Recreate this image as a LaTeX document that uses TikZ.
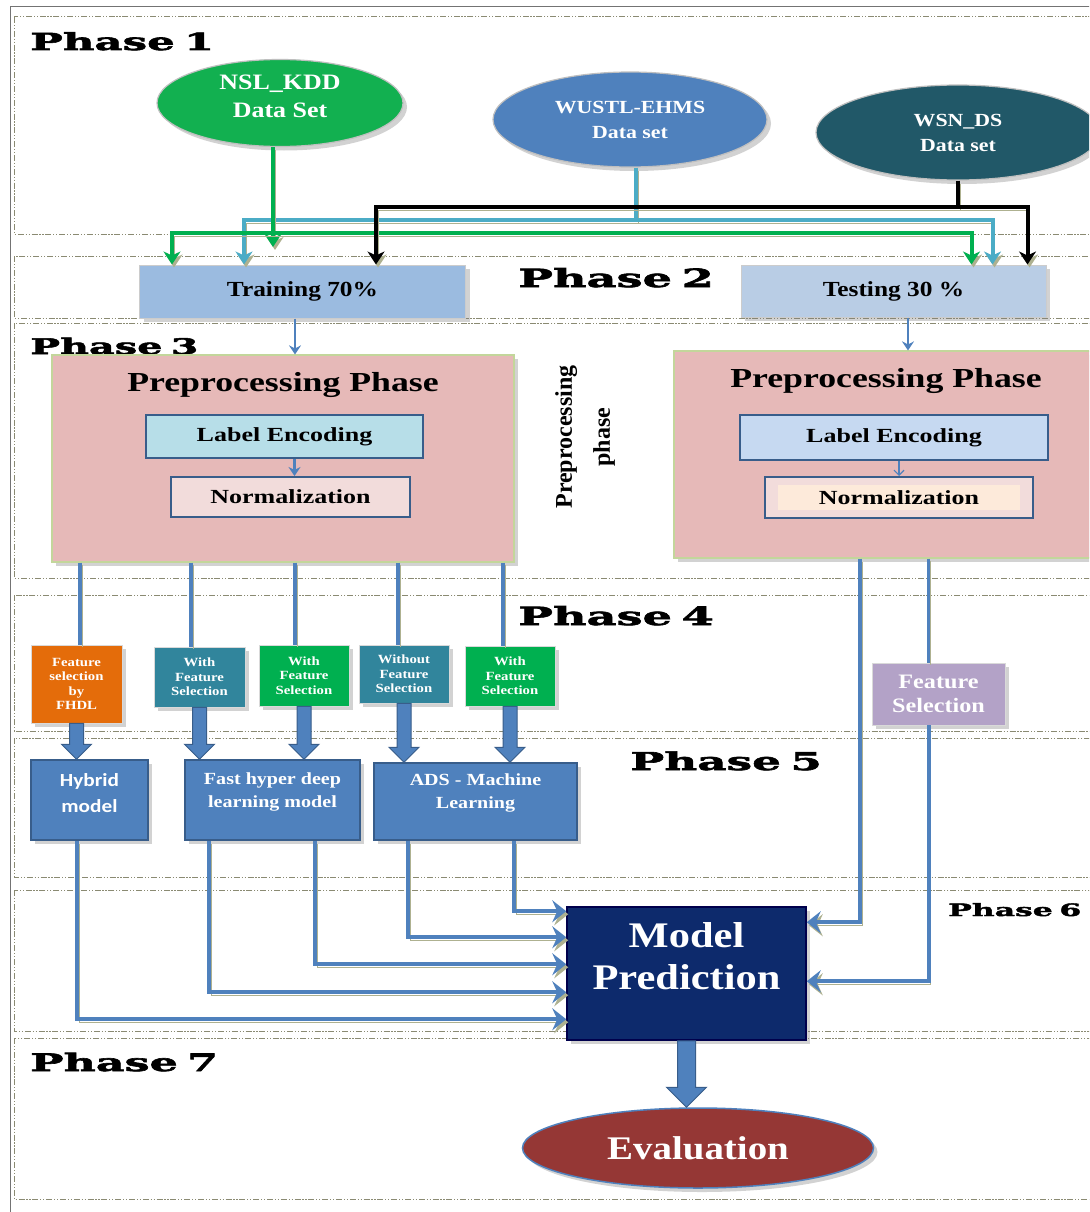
\documentclass[tikz,border=0pt]{standalone}
\usepackage{fontspec}
\setmainfont{Liberation Serif}[FakeStretch=1.18]
\newfontfamily\camfont{Liberation Serif}[FakeStretch=1.3]
\newfontfamily\rawfont{Liberation Serif}
\newfontfamily\calfont{Carlito}[FakeStretch=1.15]
\newfontfamily\phfont{DejaVu Serif}[FakeStretch=1.85,FakeBold=2.5,WordSpace=0.6]
\usetikzlibrary{shapes.geometric,arrows.meta,shadows,calc}
\definecolor{bandc}{HTML}{8A8A72}
\definecolor{nslc}{HTML}{12B050}
\definecolor{wustlc}{HTML}{4F81BD}
\definecolor{wsnc}{HTML}{215868}
\definecolor{glinec}{HTML}{00B050}
\definecolor{lblinec}{HTML}{4BACC6}
\definecolor{trainc}{HTML}{9BBBE0}
\definecolor{testc}{HTML}{B9CDE5}
\definecolor{pinkc}{HTML}{E6B9B8}
\definecolor{pinkbd}{HTML}{C3D69B}
\definecolor{leLc}{HTML}{B7DEE8}
\definecolor{leRc}{HTML}{C6D9F1}
\definecolor{normc}{HTML}{F2DCDB}
\definecolor{normin}{HTML}{FDEADA}
\definecolor{boxbd}{HTML}{385D8A}
\definecolor{orangec}{HTML}{E46C0A}
\definecolor{tealc}{HTML}{31859C}
\definecolor{greenc}{HTML}{00B050}
\definecolor{purplec}{HTML}{B3A2C7}
\definecolor{bluec}{HTML}{4F81BD}
\definecolor{navyc}{HTML}{0D2A6C}
\definecolor{evalc}{HTML}{953735}
\definecolor{shadc}{HTML}{AEB190}
\newcommand\fsz[2]{\fontsize{#1}{#2}\selectfont}
\newcommand\phaselab[4]{%
  \node[phl,font=\phfont\bfseries\fsz{#4}{#4}] (ph#3) at (#1,#2) {Phase #3};}
\newcommand\fatarrow[5]{%
  \draw[fat] let \p1=(#1), \p2=(#2) in
    (\x1-#3,\y1) -- (\x1-#3,\y2+#5) -- (\x1-#4,\y2+#5) -- (\x1,\y2) --
    (\x1+#4,\y2+#5) -- (\x1+#3,\y2+#5) -- (\x1+#3,\y1) -- cycle;}
\begin{document}
\begin{tikzpicture}[x=1pt,y=-1pt,
  every shadow/.style={opacity=0.35, shadow xshift=4pt, shadow yshift=-4pt},
  band/.style={draw=bandc, line width=1pt, dash pattern=on 6pt off 1.8pt on 1.2pt off 1.8pt on 1.2pt off 1.8pt},
  outer/.style={draw=black!55, line width=1pt},
  phl/.style={anchor=base west, inner sep=0pt, text=black},
  dsell/.style={ellipse, draw=white!75!black, line width=1.2pt, text=white, align=center, inner sep=0pt, drop shadow},
  splitbox/.style={rectangle, draw=white!80!black, line width=1pt, font=\bfseries\fsz{21.5}{26}, inner sep=0pt, drop shadow},
  pinkbox/.style={rectangle, fill=pinkc, draw=pinkbd, line width=1.2pt, inner sep=0pt, drop shadow},
  innerbox/.style={rectangle, draw=boxbd, line width=2pt, inner sep=0pt, font=\camfont\bfseries\fsz{20}{24}},
  ptitle/.style={font=\camfont\bfseries\fsz{27.5}{30}, inner sep=0pt},
  p4/.style={rectangle, minimum width=91pt, text=white, font=\bfseries\fsz{12.5}{14.5}, align=center, draw=white!70!gray, line width=0.8pt, inner sep=1pt, drop shadow},
  p5/.style={rectangle, fill=bluec, draw=boxbd, line width=1.5pt, inner sep=0pt, drop shadow},
  p5t/.style={text=white, align=center, inner sep=0pt},
  fat/.style={fill=bluec, draw=boxbd, line width=1pt},
  cline/.style={draw=bluec, line width=3.5pt, preaction={draw=shadc, transform canvas={xshift=2pt,yshift=-2pt}}},
  thinarr/.style={draw=bluec, line width=2.5pt, -{Stealth[length=9pt,width=12pt,inset=3pt]}},
  thinarrR/.style={draw=bluec, line width=1.2pt, -{Straight Barb[length=5pt,width=10pt]}},
  tipS/.style={-{Stealth[length=13pt,width=17pt,inset=4pt]}},
  gl/.style={draw=glinec, line width=4pt, preaction={draw=shadc, transform canvas={xshift=2pt,yshift=-3pt}}},
  bl/.style={draw=lblinec, line width=4pt, preaction={draw=shadc, transform canvas={xshift=2pt,yshift=-3pt}}},
  kl/.style={draw=black, line width=4pt, preaction={draw=shadc, transform canvas={xshift=2pt,yshift=-3pt}}},
  conn/.style={draw=bluec, line width=4pt, -{Stealth[length=14pt,width=22pt,inset=5pt]}, preaction={draw=shadc, transform canvas={xshift=2pt,yshift=-3pt}}}
]
\useasboundingbox (0,0) rectangle (1089,1212);
\clip (0,0) rectangle (1089,1212);
\fill[white] (0,0) rectangle (1089,1212);

% phase bands
\foreach \t/\b in {17/234, 256/318, 323/578, 595/731, 738/877, 890/1031, 1038/1199}
  \draw[band] (14,\t) rectangle (1110,\b);
\draw[outer] (10,1215) -- (10,7) -- (1110,7);

% phase labels
\phaselab{30}{50}{1}{23.5}
\phaselab{518}{287}{2}{25}
\phaselab{30}{354}{3}{21.5}
\phaselab{518}{625}{4}{25}
\phaselab{630}{770}{5}{24.5}
\phaselab{948}{916}{6}{17}
\phaselab{30}{1071}{7}{24}

% data sets
\node[dsell, fill=nslc, minimum width=246pt, minimum height=87pt] (nsl) at (280,103) {};
\node[text=white, font=\bfseries\fsz{22}{28}, align=center, inner sep=0pt] (nslt) at (280,96) {NSL\_KDD\\Data Set};
\node[dsell, fill=wustlc, minimum width=274pt, minimum height=95pt, font=\bfseries\fsz{18.5}{25}] (wustl) at (630,119.5) {WUSTL-EHMS\\Data set};
\node[dsell, fill=wsnc, minimum width=284pt, minimum height=95pt, font=\bfseries\fsz{18.5}{25}] (wsn) at (958,132.5) {WSN\_DS\\Data set};

% split
\node[splitbox, fill=trainc, minimum width=326pt, minimum height=53pt] (train) at (302.5,291.5) {Training 70\%};
\node[splitbox, fill=testc, minimum width=305pt, minimum height=52pt] (test) at (893.5,291) {Testing 30 \%};

% data set connectors
\coordinate (bj) at (636,220);
\coordinate (gj) at (273,233);
\coordinate (ky) at (0,207);
\coordinate (kj) at (wsn.south |- ky);
\draw[bl] (bj |- wustl.south) -- (bj);
\draw[bl, tipS] (bj) -| ([xshift=105pt]train.north west);
\draw[bl, tipS] (bj) -| ([xshift=252pt]test.north west);
\draw[gl, tipS] (gj |- nsl.south) -- ([yshift=-14pt]gj);
\draw[gl, tipS] (gj) -| ([xshift=33pt]train.north west);
\draw[gl, tipS] (gj) -| ([xshift=231pt]test.north west);
\draw[kl] (wsn.south) -- (kj);
\draw[kl, tipS] (kj) -| ([xshift=237pt]train.north west);
\draw[kl, tipS] (kj) -| ([xshift=287pt]test.north west);

% preprocessing
\node[pinkbox, minimum width=462pt, minimum height=207pt] (pinkL) at (283,458.5) {};
\node[ptitle] (titleL) at (283,385) {Preprocessing Phase};
\node[innerbox, fill=leLc, minimum width=277pt, minimum height=43pt] (leL) at (284.5,436.5) {Label Encoding};
\node[innerbox, fill=normc, minimum width=239pt, minimum height=40pt] (noL) at (290.5,497) {Normalization};
\path ([xshift=10pt]leL.south) coordinate (leLs);
\draw[thinarr] (leLs) -- (leLs |- noL.north);

\node[pinkbox, minimum width=424pt, minimum height=207pt] (pinkR) at (886,454.5) {};
\node[ptitle] (titleR) at (886,381) {Preprocessing Phase};
\node[innerbox, fill=leRc, minimum width=308pt, minimum height=45pt] (leR) at (894,437.5) {Label Encoding};
\node[innerbox, fill=normc, minimum width=268pt, minimum height=41pt,
  path picture={\fill[normin] ([xshift=13pt,yshift=-8pt]path picture bounding box.north west) rectangle ([xshift=-13pt,yshift=8pt]path picture bounding box.south east);}] (noR) at (899,497.5) {Normalization};
\path ([xshift=5pt]leR.south) coordinate (leRs);
\draw[thinarrR] (leRs) -- (leRs |- noR.north);

\node[rotate=90, font=\rawfont\bfseries\fsz{24}{38}, align=center, inner sep=0pt] (rot) at (585,437) {Preprocessing\\phase};

\path ([xshift=-7.5pt]train.south) coordinate (trs);
\draw[thinarr] (trs) -- (trs |- pinkL.north);
\path ([xshift=14.5pt]test.south) coordinate (tss);
\draw[thinarr] (tss) -- (tss |- pinkR.north);

% phase 4 boxes
\node[p4, fill=orangec, minimum height=78pt] (fs1) at (76.5,684) {Feature\\selection\\by\\FHDL};
\node[p4, fill=tealc, minimum height=60pt] (fs2) at (199.5,677) {With\\Feature\\Selection};
\node[p4, fill=greenc, minimum width=90pt, minimum height=61pt] (fs3) at (304,675.5) {With\\Feature\\Selection};
\node[p4, fill=tealc, minimum width=90pt, minimum height=58pt] (fs4) at (404,674) {Without\\Feature\\Selection};
\node[p4, fill=greenc, minimum width=90pt, minimum height=60pt] (fs5) at (510,676) {With\\Feature\\Selection};
\node[p4, fill=purplec, minimum width=133pt, minimum height=62pt, font=\bfseries\fsz{20.5}{24}] (fsR) at (938.5,694) {Feature\\Selection};

\foreach \b/\d in {fs1/3.5,fs2/-8.5,fs3/-9,fs4/-6,fs5/-7}{
  \path ([xshift=\d pt]\b.north) coordinate (\b top);
  \draw[cline] (\b top |- pinkL.south) -- (\b top);
}

% phase 5 boxes
\node[p5, minimum width=117pt, minimum height=80pt] (hyb) at (89.5,800) {};
\node[p5t, font=\calfont\bfseries\fsz{18.5}{26}] (hybt) at (89.5,793) {Hybrid\\model};
\node[p5, minimum width=175pt, minimum height=80pt] (fhd) at (272.5,800) {};
\node[p5t, font=\bfseries\fsz{17}{23}] (fhdt) at (272.5,792) {Fast hyper deep\\learning model};
\node[p5, minimum width=203pt, minimum height=77pt] (ads) at (475.5,801.5) {};
\node[p5t, font=\bfseries\fsz{17}{23}] (adst) at (475.5,793) {ADS - Machine\\Learning};

\fatarrow{fs1.south}{fs1.south |- hyb.north}{7pt}{15pt}{15pt}
\fatarrow{fs2.south}{fs2.south |- fhd.north}{7pt}{15pt}{15pt}
\fatarrow{fs3.south}{fs3.south |- fhd.north}{7pt}{15pt}{15pt}
\fatarrow{fs4.south}{fs4.south |- ads.north}{7pt}{15pt}{15pt}
\fatarrow{fs5.south}{fs5.south |- ads.north}{7pt}{15pt}{15pt}

% model prediction
\node[rectangle, fill=navyc, draw=black!70!blue, line width=1.5pt, minimum width=239pt, minimum height=133pt, drop shadow] (model) at (686.5,973.5) {};
\node[text=white, font=\bfseries\fsz{36}{42}, align=center, inner sep=0pt] (modelt) at (686.5,956) {Model\\Prediction};

\draw[conn] ([xshift=141pt]ads.south west) |- ([yshift=-5pt]model.north west);
\draw[conn] ([xshift=35pt]ads.south west) |- ([yshift=-31pt]model.north west);
\draw[conn] ([xshift=131pt]fhd.south west) |- ([yshift=-58pt]model.north west);
\draw[conn] ([xshift=25pt]fhd.south west) |- ([yshift=-86pt]model.north west);
\draw[conn] ([xshift=47pt]hyb.south west) |- ([yshift=-113pt]model.north west);

\path ([xshift=187pt]pinkR.south west) coordinate (rA);
\draw[conn] (rA) |- ([yshift=-16pt]model.north east);
\path ([xshift=-10pt]fsR.north) coordinate (rB);
\draw[cline] (rB |- pinkR.south) -- (rB);
\draw[conn] ([xshift=-10pt]fsR.south) |- ([yshift=-75pt]model.north east);

% evaluation
\node[ellipse, fill=evalc, draw=bluec, line width=1.5pt, minimum width=351pt, minimum height=80pt, text=white, font=\bfseries\fsz{33}{36}, inner sep=0pt, drop shadow] (eval) at (698,1148) {Evaluation};
\fatarrow{model.south}{model.south |- eval.north}{9pt}{20pt}{20pt}
\end{tikzpicture}
\end{document}
